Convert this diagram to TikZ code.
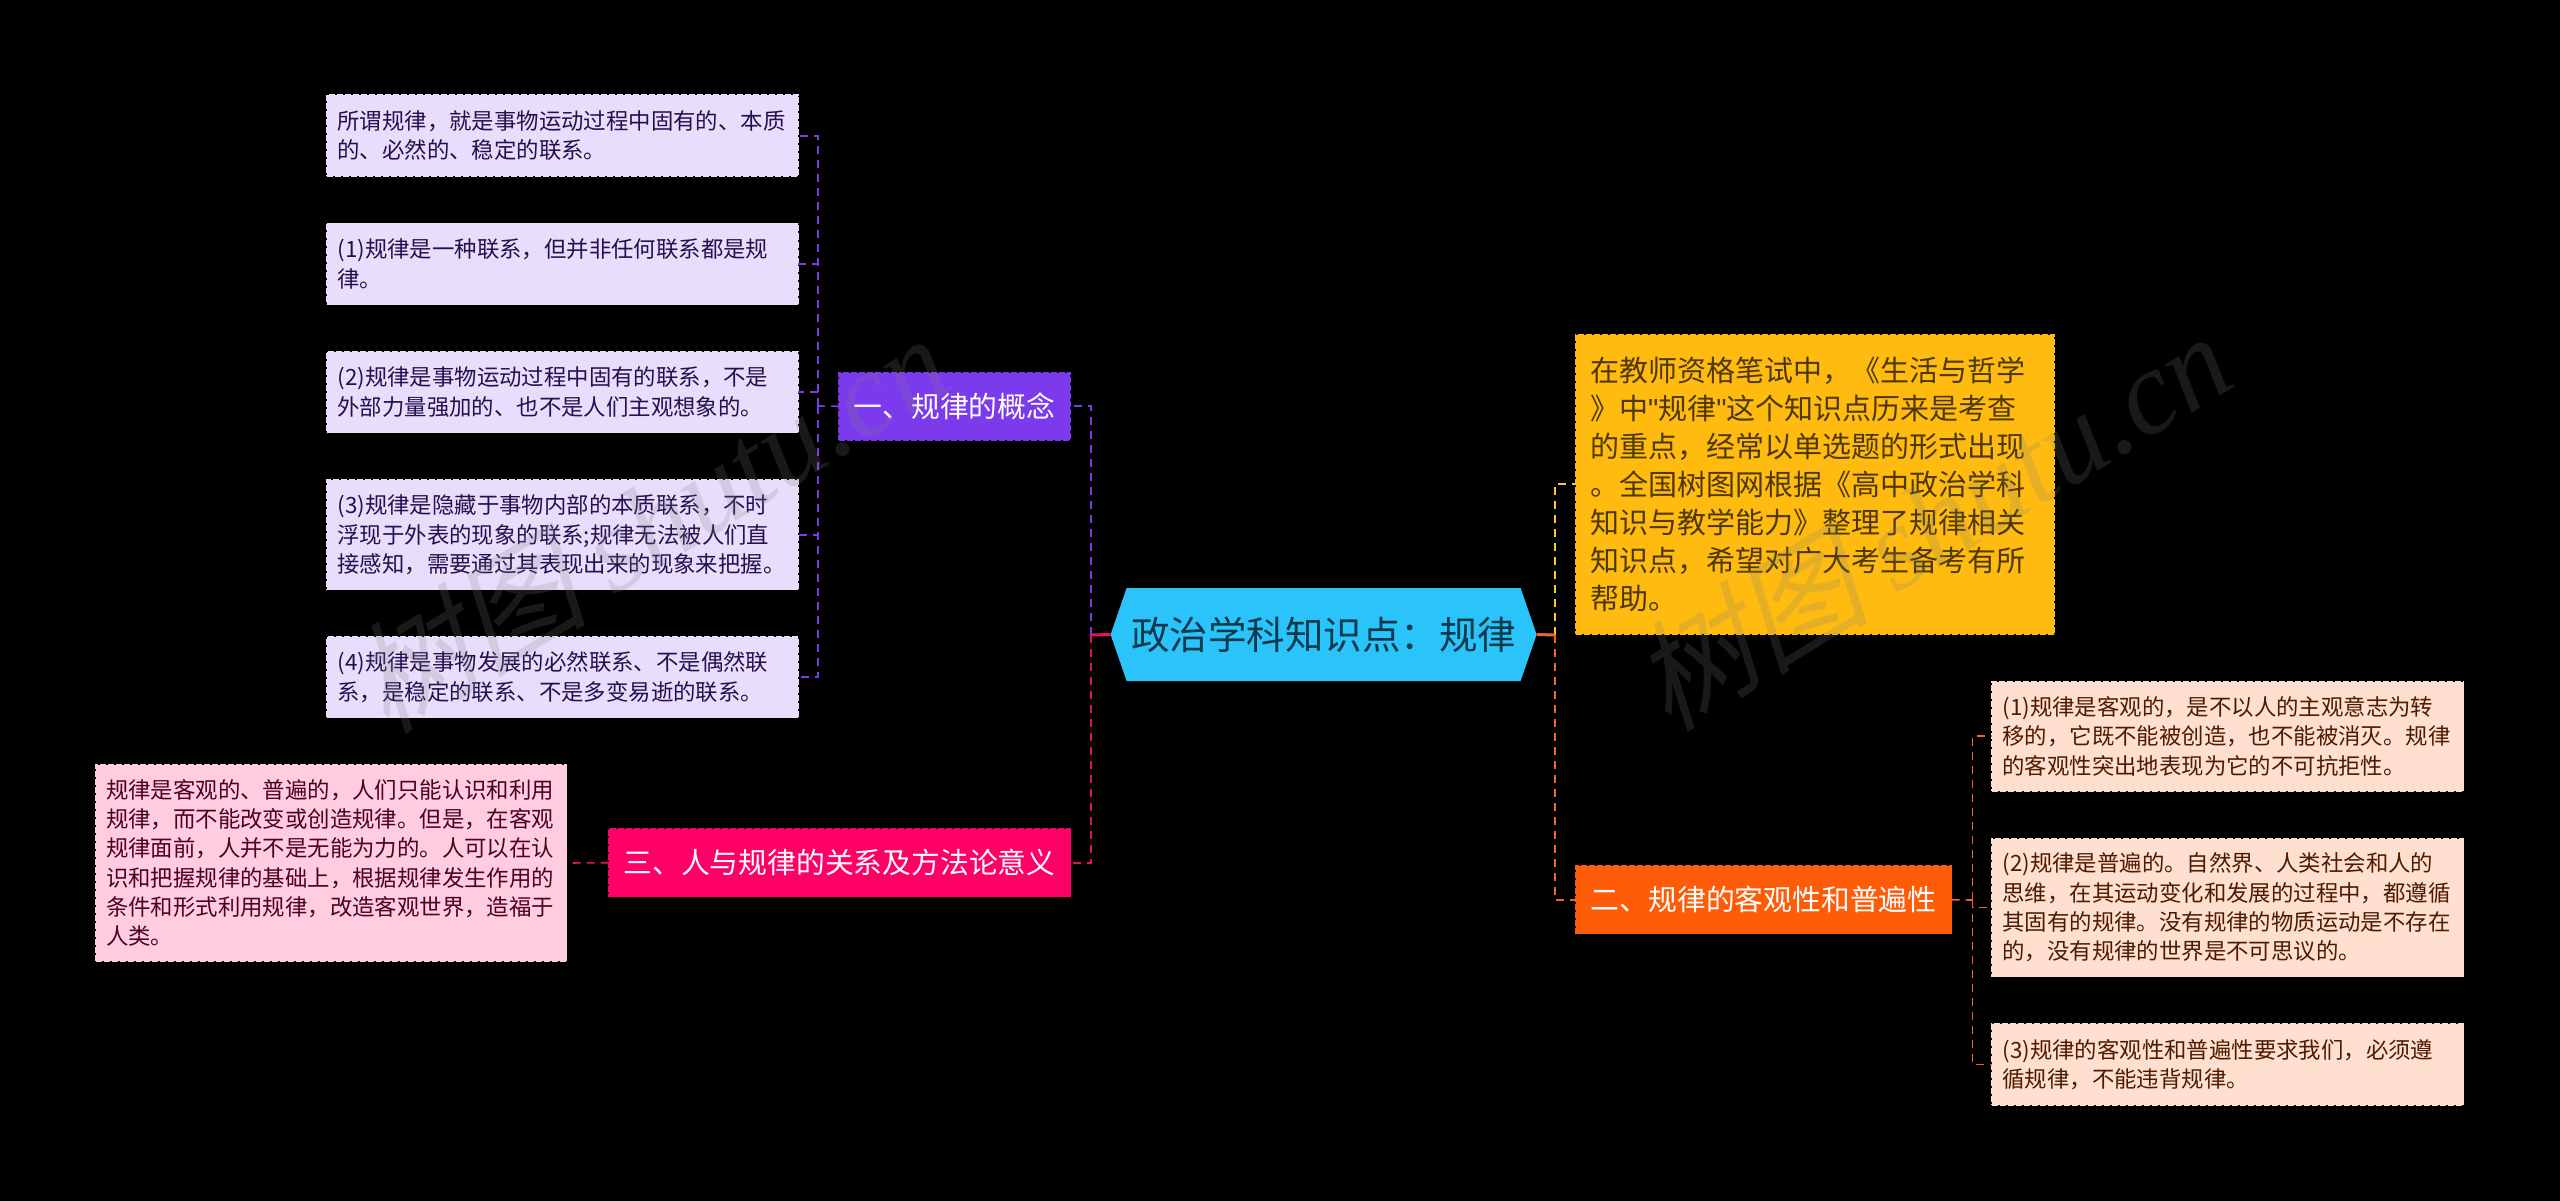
\documentclass[tikz,border=0pt]{standalone}
\usepackage{fontspec}
\setmainfont{Noto Sans CJK SC}
\newfontfamily\wmcjk[FakeSlant=0.25]{Noto Sans CJK SC}
\newfontfamily\wmlat{Liberation Serif}[ItalicFont={Liberation Serif Italic}]
\newfontfamily\quotefont{Liberation Sans}
\usetikzlibrary{shapes.symbols}
\definecolor{cPurple}{HTML}{7C3AED}
\definecolor{cLav}{HTML}{E8DDFB}
\definecolor{cLavT}{HTML}{25104F}
\definecolor{cRose}{HTML}{FF0066}
\definecolor{cRoseL}{HTML}{FFCCE0}
\definecolor{cRoseT}{HTML}{4D001F}
\definecolor{cRoseC}{HTML}{E5135F}
\definecolor{cOrange}{HTML}{FF5C0A}
\definecolor{cPeach}{HTML}{FFDFCF}
\definecolor{cPeachT}{HTML}{4D1B00}
\definecolor{cOrangeC}{HTML}{F0642A}
\definecolor{cYellow}{HTML}{FFBB0F}
\definecolor{cYellowT}{HTML}{4D3800}
\definecolor{cYellowC}{HTML}{FFC533}
\definecolor{cCyan}{HTML}{2BC4FA}
\definecolor{cCyanT}{HTML}{0B3A4D}
\tikzset{
  boxbase/.style={rectangle,anchor=north west,align=left,inner xsep=10.5pt,inner ysep=0pt,outer sep=0pt,line width=1.6pt,dash pattern=on 6pt off 2pt},
  leafpurple/.style={boxbase,fill=cLav,draw=cLav,text=cLavT,font=\fontsize{22.4}{29.3}\selectfont,text width=450pt},
  leafrose/.style={boxbase,fill=cRoseL,draw=cRoseL,text=cRoseT,font=\fontsize{22.4}{29.3}\selectfont,text width=450pt},
  leafpeach/.style={boxbase,fill=cPeach,draw=cPeach,text=cPeachT,font=\fontsize{22.4}{29.3}\selectfont,text width=450.5pt},
  branchbox/.style={rectangle,anchor=north west,align=center,inner sep=0pt,outer sep=0pt,line width=1.6pt,dash pattern=on 6pt off 2pt,text=white,font=\fontsize{28.8}{34}\selectfont,minimum height=67.5pt},
  notebox/.style={boxbase,fill=cYellow,draw=cYellow,text=cYellowT,font=\fontsize{29}{38}\selectfont,text width=449.5pt,inner xsep=14.5pt},
  conn/.style={line width=2pt,dash pattern=on 8pt off 6pt},
  leafconn/.style={line width=1.6pt,dash pattern=on 8pt off 6pt},
  stub/.style={line width=3pt},
  wmark/.style={text=gray,opacity=.2,rotate=31.5,anchor=center,inner sep=0pt,font=\fontsize{120}{120}\selectfont}
}
\begin{document}
\begin{tikzpicture}[x=1pt,y=-1pt]
\useasboundingbox (0,0) rectangle (2560,1201);
\fill[black] (0,0) rectangle (2560,1201);
% bus points
\coordinate (busL) at (1091,635);
\coordinate (busR) at (1555,635);
\coordinate (busA) at (818,406);
\coordinate (busB) at (1972.5,900);
% nodes
\node[signal,signal to=west and east,signal pointer angle=142,fill=cCyan,text=cCyanT,inner sep=0pt,outer sep=0pt,minimum width=426pt,minimum height=93pt,font=\fontsize{38.5}{44}\selectfont] (root) at (1323.6,634.5) {政治学科知识点：规律};
\node[branchbox,fill=cPurple,draw=cPurple,minimum width=231pt] (one) at (839,372.5) {一、规律的概念};
\node[branchbox,fill=cRose,draw=cRose,minimum width=462pt] (three) at (608.5,829) {三、人与规律的关系及方法论意义};
\node[branchbox,fill=cOrange,draw=cOrange,minimum width=375.5pt] (two) at (1576,866) {二、规律的客观性和普遍性};
\node[notebox,minimum height=299pt] (note) at (1575.5,335) {在教师资格笔试中，《生活与哲学\\》中{\quotefont"}规律{\quotefont"}这个知识点历来是考查\\的重点，经常以单选题的形式出现\\。全国树图网根据《高中政治学科\\知识与教学能力》整理了规律相关\\知识点，希望对广大考生备考有所\\帮助。};
\node[leafpurple,minimum height=81.5pt] (a1) at (327,95) {所谓规律，就是事物运动过程中固有的、本质\\的、必然的、稳定的联系。};
\node[leafpurple,minimum height=81pt] (a2) at (327,223.5) {(1)规律是一种联系，但并非任何联系都是规\\律。};
\node[leafpurple,minimum height=81pt] (a3) at (327,351.5) {(2)规律是事物运动过程中固有的联系，不是\\外部力量强加的、也不是人们主观想象的。};
\node[leafpurple,minimum height=109.5pt] (a4) at (327,480) {(3)规律是隐藏于事物内部的本质联系，不时\\浮现于外表的现象的联系;规律无法被人们直\\接感知，需要通过其表现出来的现象来把握。};
\node[leafpurple,minimum height=80.5pt] (a5) at (327,637) {(4)规律是事物发展的必然联系、不是偶然联\\系，是稳定的联系、不是多变易逝的联系。};
\node[leafrose,minimum height=196pt] (c1) at (95.5,765) {规律是客观的、普遍的，人们只能认识和利用\\规律，而不能改变或创造规律。但是，在客观\\规律面前，人并不是无能为力的。人可以在认\\识和把握规律的基础上，根据规律发生作用的\\条件和形式利用规律，改造客观世界，造福于\\人类。};
\node[leafpeach,minimum height=109.5pt] (b1) at (1992,681.5) {(1)规律是客观的，是不以人的主观意志为转\\移的，它既不能被创造，也不能被消灭。规律\\的客观性突出地表现为它的不可抗拒性。};
\node[leafpeach,minimum height=138pt] (b2) at (1992,838.5) {(2)规律是普遍的。自然界、人类社会和人的\\思维，在其运动变化和发展的过程中，都遵循\\其固有的规律。没有规律的物质运动是不存在\\的，没有规律的世界是不可思议的。};
\node[leafpeach,minimum height=81pt] (b3) at (1992,1024) {(3)规律的客观性和普遍性要求我们，必须遵\\循规律，不能违背规律。};
% connectors
\draw[conn,cPurple] (busL) |- (one.east);
\draw[conn,cRoseC] (busL) |- (three.east);
\draw[stub,cRoseC] (root.west) -- (busL);
\draw[conn,cYellowC] (busR) |- (note.west |- 0,484);
\draw[conn,cOrangeC] (busR) |- (two.west);
\draw[stub,cOrangeC] (root.east) -- (busR);
\draw[leafconn,cPurple] (one.west) -- (busA);
\draw[leafconn,cPurple] (busA) |- (a1.east);
\draw[leafconn,cPurple] (busA) |- (a2.east);
\draw[leafconn,cPurple] (busA) |- (a3.east);
\draw[leafconn,cPurple] (busA) |- (a4.east);
\draw[leafconn,cPurple] (busA) |- (a5.east);
\draw[leafconn,cRoseC] (three.west) -- (c1.east);
\draw[leafconn,cOrangeC] (two.east) -- (busB);
\draw[leafconn,cOrangeC] (busB) |- (b1.west);
\draw[leafconn,cOrangeC] (busB) |- (b2.west);
\draw[leafconn,cOrangeC] (busB) |- (b3.west);
% watermarks
\node[wmark] (wm1) at (648,522) {\wmcjk 树图 \wmlat\itshape shutu.cn};
\node[wmark] (wm2) at (1930,520) {\wmcjk 树图 \wmlat\itshape shutu.cn};
\end{tikzpicture}
\end{document}
